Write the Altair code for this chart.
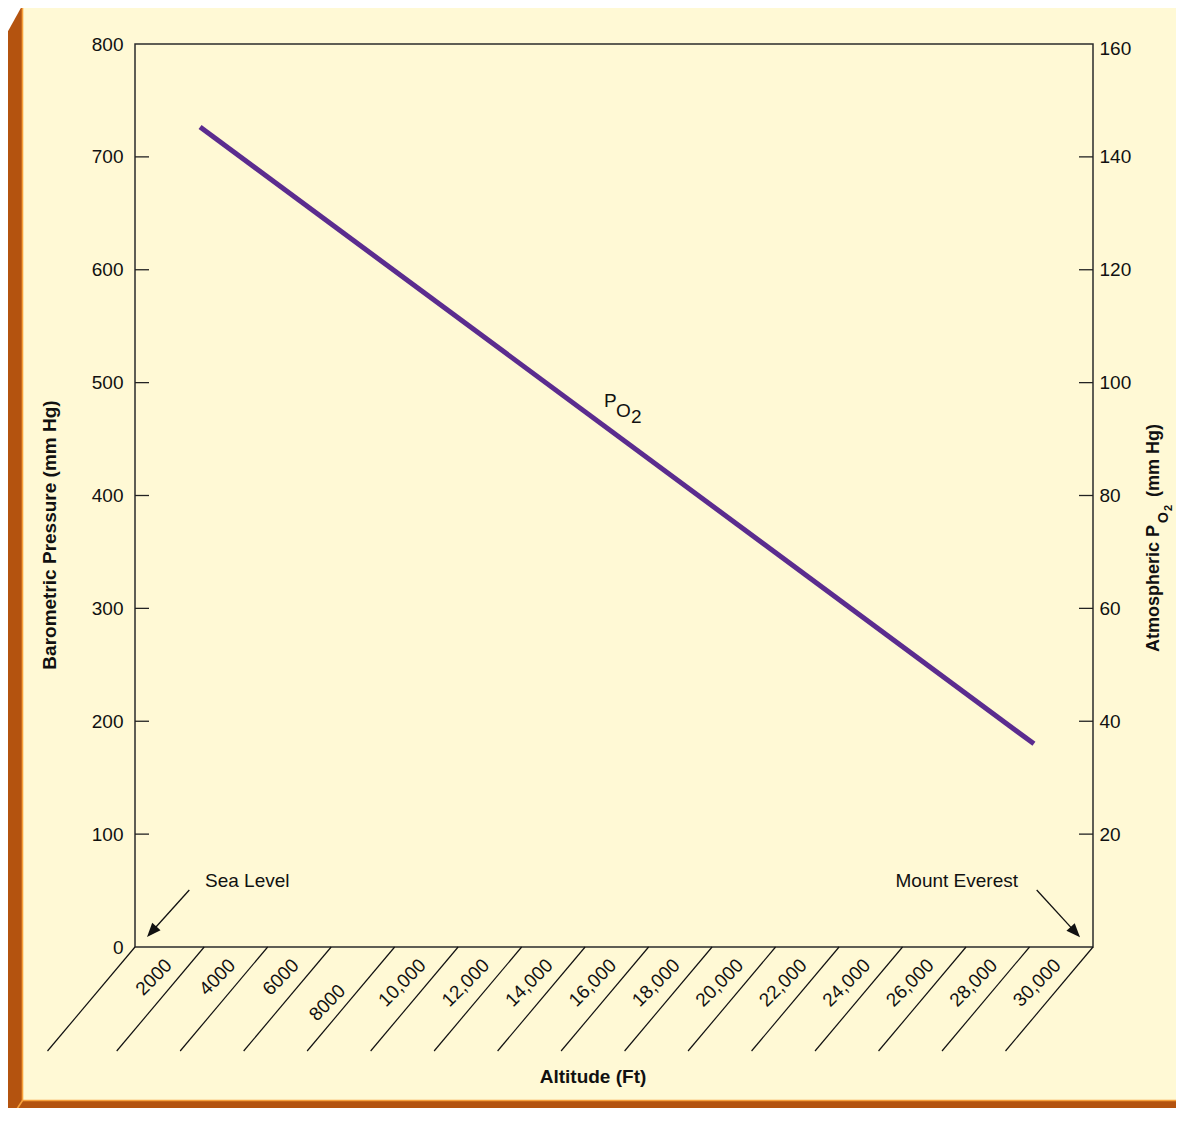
import altair as alt
import pandas as pd

# ---------------- data ----------------
altitude_ft = [1870, 28140]          # ends of the PO2 line
po2_mmhg = [145.3, 36.0]

x_tick_ft = [2000, 4000, 6000, 8000, 10000, 12000, 14000, 16000,
             18000, 20000, 22000, 24000, 26000, 28000, 30000]
x_tick_labels = ["2000", "4000", "6000", "8000", "10,000", "12,000", "14,000",
                 "16,000", "18,000", "20,000", "22,000", "24,000", "26,000",
                 "28,000", "30,000"]
bp_label_values = [0, 100, 200, 300, 400, 500, 600, 700, 800]
bp_tick_values = [100, 200, 300, 400, 500, 600, 700]
po2_label_values = [20, 40, 60, 80, 100, 120, 140, 160]
po2_tick_values = [20, 40, 60, 80, 100, 120, 140]

FONT = "Liberation Sans"
CREAM = "#FFF9D5"
BROWN = "#B4530F"
ORANGE = "#F6A03C"
INK = "#111111"
PURPLE = "#5B2C8F"

line_df = pd.DataFrame({"alt": altitude_ft, "po2": po2_mmhg})
xt_df = pd.DataFrame({"alt": x_tick_ft, "label": x_tick_labels})
bp_df = pd.DataFrame({"bp": bp_tick_values})
po2_df = pd.DataFrame({"po2": po2_tick_values})
one = pd.DataFrame({"k": [0]})

xscale = alt.Scale(domain=[-180, 30000], nice=False, zero=False)
yleft = alt.Scale(domain=[0, 800], nice=False)
yright = alt.Scale(domain=[0, 160], nice=False)


def vrect(x, x2, y, y2, color):
    return alt.Chart(one).mark_rect(color=color).encode(
        x=alt.value(x), x2=alt.value(x2), y=alt.value(y), y2=alt.value(y2))


def vrule(x, y, x2, y2, color, w):
    return alt.Chart(one).mark_rule(color=color, strokeWidth=w, strokeCap="butt").encode(
        x=alt.value(x), y=alt.value(y), x2=alt.value(x2), y2=alt.value(y2))


def vtext(s, x, y, size=19, weight="normal", angle=0, align="left", baseline="alphabetic"):
    return alt.Chart(one).mark_text(
        font=FONT, fontSize=size, fontWeight=weight, angle=angle, align=align,
        baseline=baseline, color=INK).encode(
        x=alt.value(x), y=alt.value(y), text=alt.value(s))


# ---------------- decorative frame ----------------
frame = [
    vrect(-127, -113, -36, 1080, BROWN),             # left bevel
    vrect(-127, 1060, 1057, 1080, BROWN),            # bottom bevel
    vrule(-104.1, -78.8, -157.9, 18.1, "white", 24),  # top-left cut corner
    vrule(-112.5, -40, -112.5, 1056.5, ORANGE, 1.6),
    vrule(-113, 1056.5, 1060, 1056.5, ORANGE, 1.6),
    vrule(-112.5, 1056.5, -120, 1068, ORANGE, 1.6),
    vrule(0, 903, -87.5, 1007, INK, 1.2),             # corner diagonal at origin
]

# ---------------- axes & ticks ----------------
left = alt.Chart(bp_df).mark_rule(color="#222222", strokeWidth=1.3).encode(
    y=alt.Y("bp:Q", scale=yleft, axis=alt.Axis(
        orient="left", values=bp_label_values, domain=False, ticks=False, grid=False,
        labelPadding=12, labelFontSize=19, labelFont=FONT, labelColor=INK, title=None)),
    x=alt.value(0), x2=alt.value(14))

rticks = alt.Chart(po2_df).mark_rule(color="#222222", strokeWidth=1.3).encode(
    y=alt.Y("po2:Q", scale=yright, axis=None),
    x=alt.value(944), x2=alt.value(958))

line = alt.Chart(line_df).mark_line(color=PURPLE, strokeWidth=5, strokeCap="butt").encode(
    x=alt.X("alt:Q", scale=xscale, axis=None),
    y=alt.Y("po2:Q", scale=yright, axis=alt.Axis(
        orient="right", values=po2_label_values, domain=False, ticks=False, grid=False,
        labelPadding=6, labelFontSize=19, labelFont=FONT, labelColor=INK, title=None,
        labelOffset={"condition": {"test": "datum.value == 160", "value": 4}, "value": 0})))

xdiag = alt.Chart(xt_df).mark_rule(color=INK, strokeWidth=1.2, x2Offset=-87.5).encode(
    x=alt.X("alt:Q", scale=xscale, axis=None), x2="alt:Q",
    y=alt.value(903), y2=alt.value(1007))

xlab = alt.Chart(xt_df).transform_filter("datum.label != '8000'").mark_text(
    angle=315, align="right", baseline="alphabetic", fontSize=19, font=FONT,
    color=INK, dx=-21, dy=-23).encode(
    x=alt.X("alt:Q", scale=xscale, axis=None), y=alt.value(924), text="label:N")

xlab8 = alt.Chart(xt_df).transform_filter("datum.label == '8000'").mark_text(
    angle=315, align="right", baseline="alphabetic", fontSize=19, font=FONT,
    color=INK, dx=-34, dy=-34).encode(
    x=alt.X("alt:Q", scale=xscale, axis=None), y=alt.value(948), text="label:N")

# ---------------- titles & annotations ----------------
texts = [
    vtext("Barometric Pressure (mm Hg)", -85, 491, 19, "bold", 270, "center", "middle"),
    vtext("Altitude (Ft)", 458, 1033, 19, "bold", 0, "center", "middle"),
    vtext("Atmospheric P", 1023.5, 608, 18, "bold", 270, "left"),
    vtext("O", 1033, 479, 14, "bold", 270, "left"),
    vtext("2", 1036.5, 467, 11, "bold", 270, "left"),
    vtext("(mm Hg)", 1023.5, 453, 18, "bold", 270, "left"),
    vtext("P", 469, 363, 19),
    vtext("O", 481, 373, 19),
    vtext("2", 496, 379, 19),
    vtext("Sea Level", 70, 842.5, 19),
    vtext("Mount Everest", 760.5, 842.5, 19),
]

ARROW = "M0,-1L0.8,1L-0.8,1Z"
arrows = [
    vrule(54.3, 846, 16.7, 887.8, INK, 1.3),
    vrule(901.7, 846, 940.3, 888.1, INK, 1.3),
    alt.Chart(one).mark_point(shape=ARROW, size=196, filled=True, color=INK, opacity=1,
                              angle=222).encode(x=alt.value(16.7), y=alt.value(887.8)),
    alt.Chart(one).mark_point(shape=ARROW, size=196, filled=True, color=INK, opacity=1,
                              angle=137.6).encode(x=alt.value(940.3), y=alt.value(888.1)),
]

chart = alt.layer(
    *frame, left, rticks, xdiag, xlab, xlab8, line, *texts, *arrows
).resolve_scale(y="independent").properties(
    width=958, height=903,
    padding={"left": 127, "top": 36, "right": 83, "bottom": 161},
    autosize=alt.AutoSizeParams(type="none"),
    background=CREAM,
).configure_view(stroke="#2b2b2b", strokeWidth=1.5)

chart.save("out.html", embed_options={"renderer": "svg", "actions": False})
